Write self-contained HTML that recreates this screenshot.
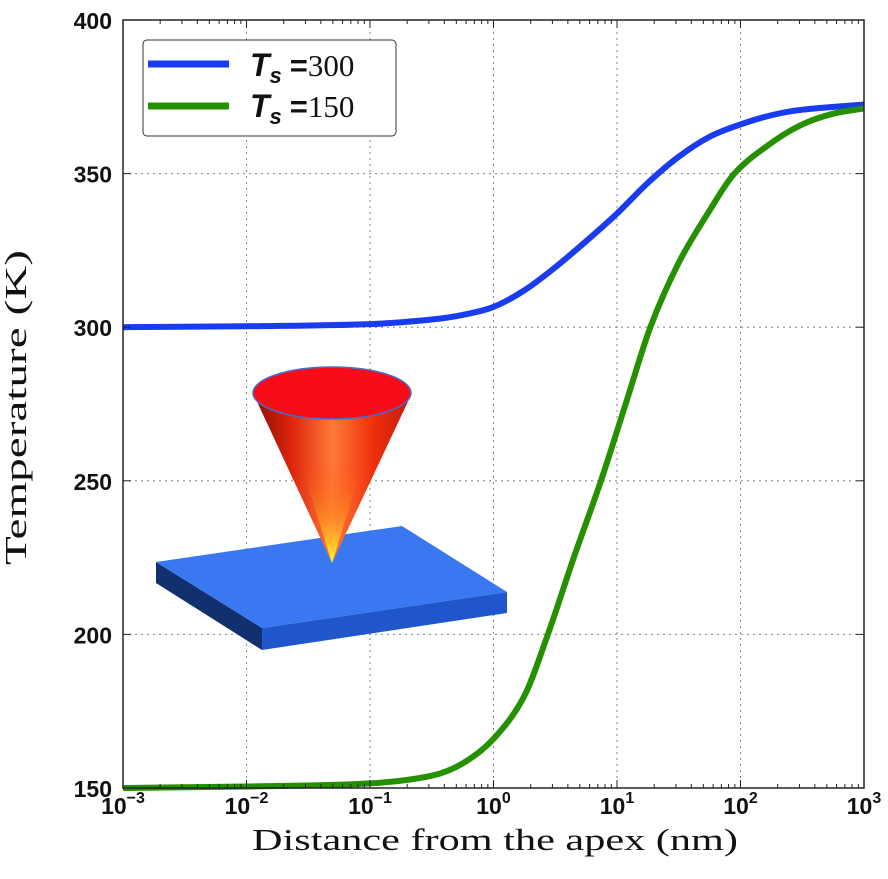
<!DOCTYPE html>
<html><head><meta charset="utf-8"><style>
html,body{margin:0;padding:0;background:#fff;}
svg{display:block;}
.tk{font-family:"Liberation Sans",sans-serif;font-weight:bold;font-size:23px;fill:#111;}
.ttl{font-family:"Liberation Serif",serif;font-size:31px;fill:#111;}
</style></head><body>
<svg id="chart" width="888" height="879" viewBox="0 0 888 879">
<defs>
<linearGradient id="coneGrad" x1="0" y1="0" x2="1" y2="0">
<stop offset="0" stop-color="#8a0c06"/><stop offset="0.25" stop-color="#e0260e"/>
<stop offset="0.5" stop-color="#ff7a3a"/><stop offset="0.75" stop-color="#f0320e"/><stop offset="1" stop-color="#c41608"/>
</linearGradient>
<linearGradient id="tipGrad" x1="0" y1="0" x2="0" y2="1">
<stop offset="0" stop-color="#ff4000" stop-opacity="0"/><stop offset="0.6" stop-color="#ffa020" stop-opacity="0.6"/><stop offset="1" stop-color="#ffff30" stop-opacity="1"/>
</linearGradient>
</defs>
<g id="grid"></g>
<g id="inset">
<polygon points="156,562 156,583 262,650 262,628" fill="#12306e"/>
<polygon points="262,628 262,650 507,613 507,592" fill="#2056cc"/>
<polygon points="156,562 402,526 507,592 262,628" fill="#3a78f2"/>
<path d="M253,393 L332,563 L412,393 Z" fill="url(#coneGrad)"/>
<path d="M300,460 L332,563 L364,460 Z" fill="url(#tipGrad)"/>
<ellipse cx="332" cy="393" rx="79" ry="26" fill="#f80c18" stroke="#4a6ad0" stroke-width="1.5"/>
</g>
<g id="series"></g>
<g id="axes"></g>
<g id="legend">
<rect x="143" y="40" width="253" height="96" rx="4" fill="#fff" stroke="#333" stroke-width="1"/>
<line x1="148" y1="64" x2="229" y2="64" stroke="#1a3cf0" stroke-width="7"/>
<text x="250" y="76" class="ttl" font-size="34"><tspan font-family="Liberation Sans" font-weight="bold" font-style="italic" font-size="32">T</tspan><tspan font-family="Liberation Sans" font-weight="bold" font-style="italic" font-size="22" dy="7">s</tspan><tspan font-family="Liberation Sans" font-weight="bold" dy="-7" dx="8">=</tspan>300</text>
<line x1="148" y1="106" x2="229" y2="106" stroke="#259000" stroke-width="7"/>
<text x="250" y="117" class="ttl" font-size="34"><tspan font-family="Liberation Sans" font-weight="bold" font-style="italic" font-size="32">T</tspan><tspan font-family="Liberation Sans" font-weight="bold" font-style="italic" font-size="22" dy="7">s</tspan><tspan font-family="Liberation Sans" font-weight="bold" dy="-7" dx="8">=</tspan>150</text>
</g>
<text x="252" y="850" textLength="486" lengthAdjust="spacingAndGlyphs" class="ttl">Distance from the apex (nm)</text>
<text transform="translate(26,565) rotate(-90)" textLength="315" lengthAdjust="spacingAndGlyphs" class="ttl">Temperature (K)</text>
</svg>
<script>
const xTickExps = [-3,-2,-1,0,1,2,3];
const yTicks = [150,200,250,300,350,400];
const blueLogX = [-3,-2,-1,-0.5,-0.25,0,0.25,0.5,0.75,1,1.25,1.5,1.75,2,2.25,2.5,3];
const blueT = [300,300.3,301,302.5,304,306.6,312,319.5,328,337,347,355.5,362,366,369,370.8,372.5];
const greenLogX = [-3,-2,-1,-0.5,-0.25,0,0.25,0.44,0.65,0.87,1.07,1.27,1.5,1.75,1.95,2.25,2.5,2.75,3];
const greenT = [150,150.5,151.5,154,158,166,180,200,225,250,275,300,321,338,350,360,366,369.5,371.2];

const L=123,R=864,T=20,B=788;
const xs=v=>L+(v+3)/6*(R-L);
const ys=v=>B-(v-150)/250*(B-T);
const NS='http://www.w3.org/2000/svg';
function mk(tag,attrs,parent){const e=document.createElementNS(NS,tag);for(const k in attrs)e.setAttribute(k,attrs[k]);parent.appendChild(e);return e;}
const grid=document.getElementById('grid'),axes=document.getElementById('axes'),series=document.getElementById('series');
xTickExps.forEach(e=>{const x=xs(e);
 if(e>-3&&e<3){const g=mk('line',{x1:x,x2:x,y1:T,y2:B,stroke:'#7a8a8a','stroke-width':1,'stroke-dasharray':'2,4'},grid);
 
 }
 const t=mk('text',{x:x,y:814,'text-anchor':'middle',class:'tk'},axes);
 
 
 t.innerHTML='10<tspan dy="-11" font-size="16">'+(e<0?'\u2212'+(-e):e)+'</tspan>';
 [0,1].forEach(s=>{const yy=s?B:T;const tk=mk('line',{x1:x,x2:x,y1:yy,y2:s?yy-8:yy+8,stroke:'#222','stroke-width':1},axes);
 
 });
 if(e<3)for(let m=2;m<10;m++){const mx=xs(e+Math.log10(m));[0,1].forEach(s=>{const yy=s?B:T;const mt=mk('line',{x1:mx,x2:mx,y1:yy,y2:s?yy-4:yy+4,stroke:'#222','stroke-width':1},axes);
 
 });}
});
yTicks.forEach(v=>{const y=ys(v);
 if(v>150&&v<400){const g=mk('line',{x1:L,x2:R,y1:y,y2:y,stroke:'#7a8a8a','stroke-width':1,'stroke-dasharray':'2,4'},grid);
 
 }
 const t=mk('text',{x:112,y:y+9,'text-anchor':'end',class:'tk'},axes);
 
 
 t.textContent=v;
 [L,R].forEach(xx=>{const tk=mk('line',{x1:xx,x2:xx==L?xx+8:xx-8,y1:y,y2:y,stroke:'#222','stroke-width':1},axes);
 
 });
});
const frame=mk('rect',{x:L,y:T,width:R-L,height:B-T,fill:'none',stroke:'#222','stroke-width':1.5},axes);


function smoothPath(lx,tv){
 const px=lx.map(xs),py=tv.map(ys),n=px.length;const m=[];
 for(let i=0;i<n;i++){const a=Math.max(0,i-1),b=Math.min(n-1,i+1);m[i]=(py[b]-py[a])/(px[b]-px[a]);}
 let s='M'+px[0]+','+py[0];
 for(let i=0;i<n-1;i++){const h=(px[i+1]-px[i])/3;
 s+=' C'+(px[i]+h)+','+(py[i]+m[i]*h)+' '+(px[i+1]-h)+','+(py[i+1]-m[i+1]*h)+' '+px[i+1]+','+py[i+1];}
 return s;}
const pb=mk('path',{d:smoothPath(blueLogX,blueT),fill:'none',stroke:'#1a3cf0','stroke-width':6},series);


const pg=mk('path',{d:smoothPath(greenLogX,greenT),fill:'none',stroke:'#259000','stroke-width':6},series);


</script>
</body></html>
